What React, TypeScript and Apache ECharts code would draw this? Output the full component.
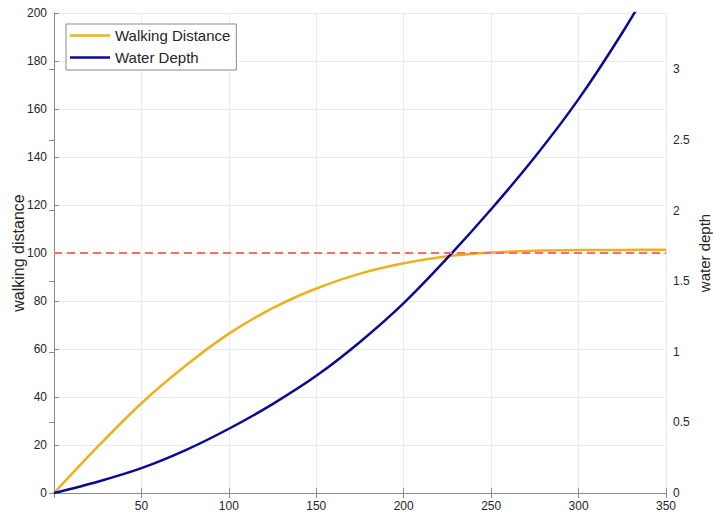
import React, { useEffect, useRef } from "react";
import * as echarts from "echarts";

const xValues = [0, 25, 50, 75, 100, 125, 150, 175, 200, 225, 250, 275, 300, 325, 350];
const walkingDistance = [0, 19.3, 37.4, 52.9, 66.4, 77.0, 85.2, 91.4, 95.7, 98.6, 100.2, 100.9, 101.2, 101.3, 101.4];
const waterDepth = [0, 0.08, 0.176, 0.302, 0.455, 0.63, 0.83, 1.07, 1.345, 1.665, 2.01, 2.38, 2.79, 3.26, 3.78];
const thresholdValue = 100;
const xTicks = { min: 0, max: 350, interval: 50 };
const leftTicks = { min: 0, max: 200, interval: 20 };
const rightTicks = { min: 0, max: 3.4, interval: 0.5 };

const FONT = "'Liberation Sans', Arial, Helvetica, sans-serif";
const AXIS_COLOR = "#8a8a8a";
const LABEL_COLOR = "#262626";

export default function App() {
  const ref = useRef<HTMLDivElement>(null);
  useEffect(() => {
    if (!ref.current) return;
    const chart = echarts.init(ref.current, undefined, { renderer: "svg" });
    const tick = { show: true, inside: true, length: 5, lineStyle: { color: AXIS_COLOR } };
    const axisLine = { show: true, lineStyle: { color: AXIS_COLOR, width: 1 } };
    const label = { color: LABEL_COLOR, fontSize: 12, fontFamily: FONT };
    chart.setOption({
      animation: false,
      backgroundColor: "#ffffff",
      textStyle: { fontFamily: FONT },
      grid: { left: 54, right: 47, top: 13, bottom: 22, containLabel: false, outerBoundsMode: "none" },
      legend: {
        data: ["Walking Distance", "Water Depth"],
        orient: "vertical",
        left: 66,
        top: 24,
        icon: "rect",
        itemWidth: 40,
        itemHeight: 2.5,
        itemGap: 7,
        padding: [4, 6, 5, 4],
        borderColor: "#8a8a8a",
        borderWidth: 1,
        backgroundColor: "#ffffff",
        textStyle: { fontSize: 15, color: LABEL_COLOR, fontFamily: FONT },
      },
      xAxis: [
        {
          type: "value",
          position: "bottom",
          ...xTicks,
          axisLine,
          axisTick: tick,
          axisLabel: { ...label, showMinLabel: false, margin: 7 },
          splitLine: { show: true, lineStyle: { color: "#ebebeb", width: 1 } },
        },
        {
          type: "value",
          position: "top",
          ...xTicks,
          axisLine,
          axisTick: tick,
          axisLabel: { show: false },
          splitLine: { show: false },
        },
      ],
      yAxis: [
        {
          type: "value",
          position: "left",
          ...leftTicks,
          name: "walking distance",
          nameLocation: "middle",
          nameRotate: 90,
          nameGap: 28,
          nameMoveOverlap: false,
          nameTextStyle: { fontSize: 16, color: LABEL_COLOR, fontFamily: FONT },
          axisLine,
          axisTick: tick,
          axisLabel: { ...label, margin: 7 },
          splitLine: { show: true, lineStyle: { color: "#ebebeb", width: 1 } },
        },
        {
          type: "value",
          position: "right",
          ...rightTicks,
          name: "water depth",
          nameLocation: "middle",
          nameRotate: 90,
          nameGap: 31,
          nameMoveOverlap: false,
          nameTextStyle: { fontSize: 15, color: LABEL_COLOR, fontFamily: FONT },
          axisLine,
          axisTick: tick,
          axisLabel: { ...label, showMaxLabel: false, margin: 7 },
          splitLine: { show: false },
        },
      ],
      series: [
        {
          name: "Walking Distance",
          type: "line",
          xAxisIndex: 0,
          yAxisIndex: 0,
          data: xValues.map((x, i) => [x, walkingDistance[i]]),
          smooth: 0.3,
          showSymbol: false,
          symbol: "none",
          color: "#EDB120",
          lineStyle: { color: "#EDB120", width: 2.5 },
          z: 3,
        },
        {
          name: "Water Depth",
          type: "line",
          xAxisIndex: 0,
          yAxisIndex: 1,
          data: xValues.map((x, i) => [x, waterDepth[i]]),
          smooth: 0.3,
          showSymbol: false,
          symbol: "none",
          color: "#0A0A9A",
          lineStyle: { color: "#0A0A9A", width: 2.5 },
          clip: true,
          z: 3,
        },
        {
          name: "threshold",
          type: "line",
          xAxisIndex: 0,
          yAxisIndex: 0,
          data: [
            [xTicks.min, thresholdValue],
            [xTicks.max, thresholdValue],
          ],
          showSymbol: false,
          symbol: "none",
          color: "#FF6B6B",
          lineStyle: { color: "#FF6B6B", width: 2, type: [8, 5] },
          z: 4,
          silent: true,
        },
      ],
    });
    return () => chart.dispose();
  }, []);
  return (
    <div
      ref={ref}
      style={{ position: "fixed", left: 0, top: 0, width: 713, height: 515, background: "#fff" }}
    />
  );
}
